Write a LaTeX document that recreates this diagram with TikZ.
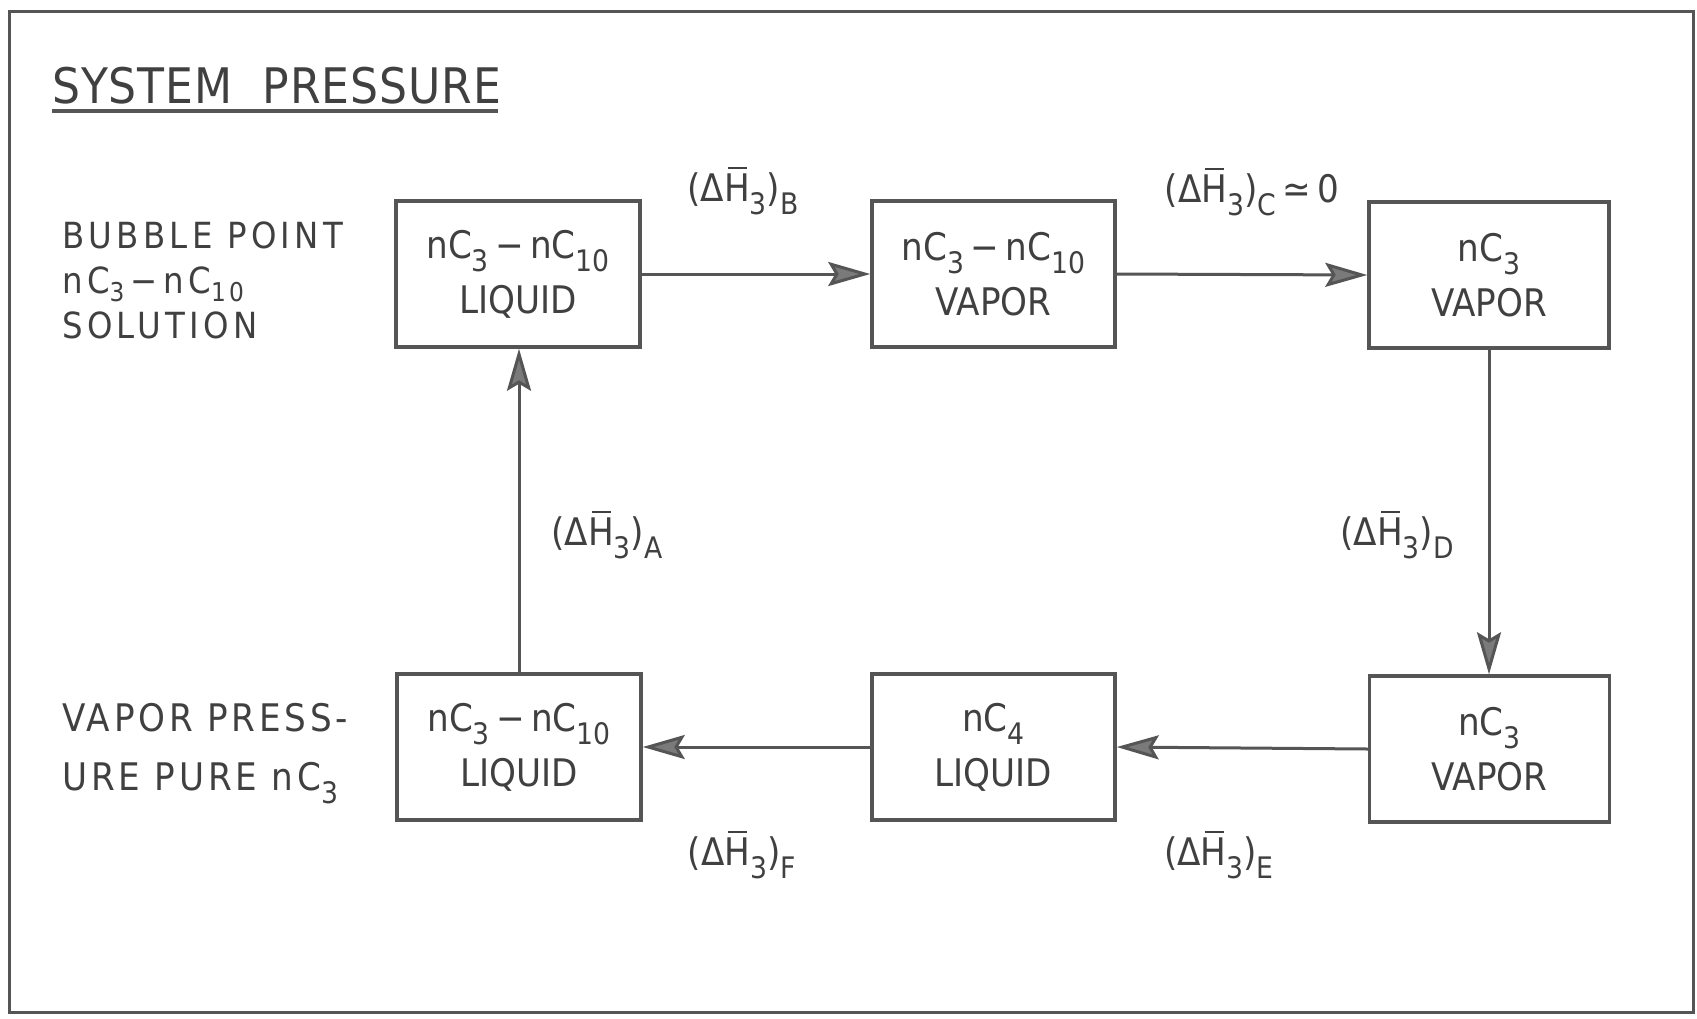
\documentclass[tikz,border=0pt]{standalone}
\usepackage{fontspec}
\setmainfont{DejaVu Sans Condensed}
\usetikzlibrary{arrows.meta}
\definecolor{ink}{HTML}{555555}
\definecolor{txt}{HTML}{404040}
\definecolor{headfill}{HTML}{7a7a7a}
\newcommand\lo[1]{\raisebox{-0.34em}{\scalebox{0.78}{#1}}}
\newcommand\los[1]{\raisebox{-0.2em}{\scalebox{0.72}{#1}}}
\newcommand\Hb{\leavevmode\rlap{\hspace{0.1em}\raisebox{0.86em}{\rule{0.5em}{0.06em}}}H}
\newcommand\dH[1]{(Δ\Hb\lo{3})\lo{#1}}
\newcommand\nCC{nC\lo{3}\,−\,nC\lo{10}}
\newcommand\nCCs{nC\los{3}\,−\,nC\los{10}}
\tikzset{
  frame/.style={draw=ink, line width=3pt},
  box/.style={draw=ink, line width=3.5pt, minimum width=244pt, minimum height=146pt,
     inner sep=0pt, align=center, text=txt, font=\fontsize{38}{55}\selectfont},
  flow/.style={draw=ink, line width=3pt,
     -{Stealth[length=42pt,width=24pt,inset=7pt,fill=headfill]}},
  lbl/.style={text=txt, font=\fontsize{38}{46}\selectfont, inner sep=0pt},
  side/.style={text=txt, align=left, anchor=north west, inner sep=0pt},
}
\begin{document}
\begin{tikzpicture}[x=1pt,y=-1pt]
\useasboundingbox (0,0) rectangle (1697,1018);
\fill[white] (0,0) rectangle (1697,1018);
\draw[frame] (9,11) rectangle (1693,1012);

\node[text=txt, font=\fontsize{49}{58}\selectfont\addfontfeature{LetterSpace=2}, anchor=base west, inner sep=0pt] (title) at (52,103) {SYSTEM\ \ PRESSURE};
\draw[ink, line width=4pt] (52,111) -- (498,111);

\node[side, font=\fontsize{36}{45}\selectfont\addfontfeature{LetterSpace=12}] (bp) at (62,222) {BUBBLE POINT\\ \nCCs\\ SOLUTION};
\node[side, font=\fontsize{38}{59}\selectfont\addfontfeature{LetterSpace=10}] (vp) at (62,703) {VAPOR PRESS-\\ URE PURE nC\lo{3}};

\node[box] (b1) at (518,274) {\nCC\\ LIQUID};
\node[box, minimum width=243pt] (b2) at (993.5,274) {\nCC\\ VAPOR};
\node[box, minimum width=240pt] (b3) at (1489,275) {nC\lo{3}\\ VAPOR};
\node[box] (b4) at (519,747) {\nCC\\ LIQUID};
\node[box, minimum width=243pt] (b5) at (993.5,747) {nC\lo{4}\\ LIQUID};
\node[box, minimum width=240pt] (b6) at (1489.5,749) {nC\lo{3}\\ VAPOR};

\draw[flow] (b1.east) -- (b2.west);
\draw[flow] (b2.east) -- (b3.west);
\draw[flow] (b3.south) -- (b3.south |- b6.north);
\draw[flow] (b6.west) -- (b5.east);
\draw[flow] (b5.west) -- (b4.east);
\draw[flow] (b4.north) -- (b4.north |- b1.south);

\node[lbl] (lB) at (743,191) {\dH{B}};
\node[lbl] (lC) at (1252,192) {\dH{C}\,≃\,0};
\node[lbl] (lA) at (607,535) {\dH{A}};
\node[lbl] (lD) at (1397,535) {\dH{D}};
\node[lbl] (lF) at (742,855) {\dH{F}};
\node[lbl] (lE) at (1219,855) {\dH{E}};
\end{tikzpicture}
\end{document}
